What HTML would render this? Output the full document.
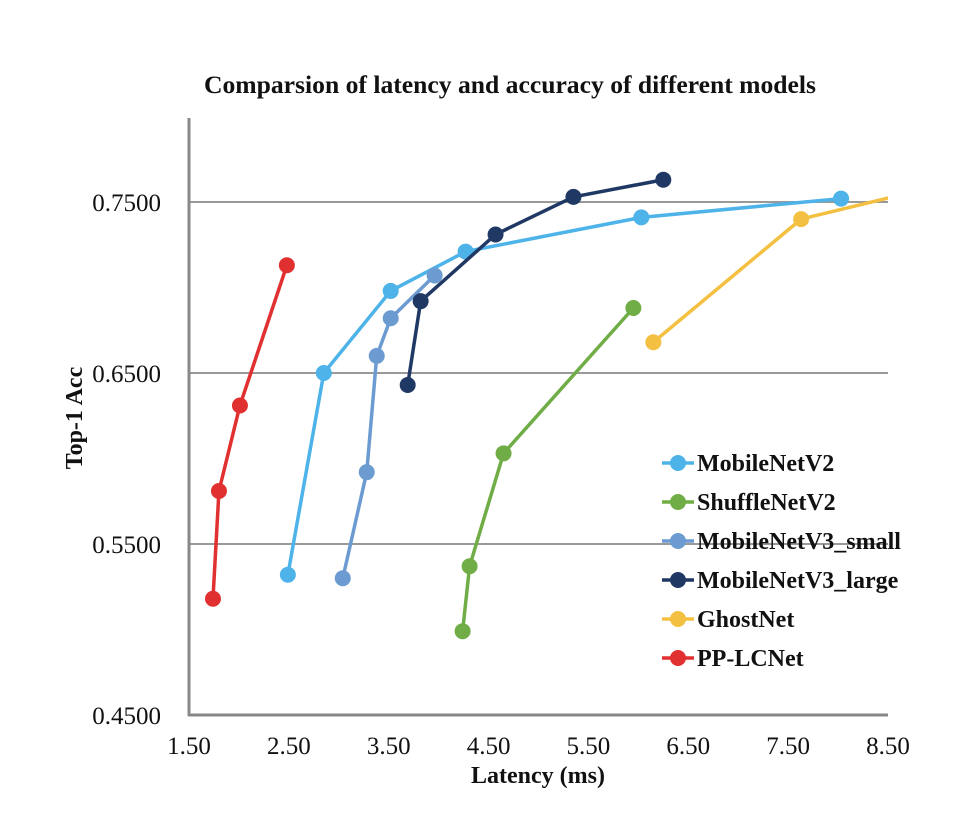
<!DOCTYPE html>
<html><head><meta charset="utf-8"><style>
body{margin:0;background:#fff;}
svg text{font-family:"Liberation Serif",serif;fill:#111;}
</style></head><body>
<svg id="chart" width="972" height="814">
<text x="510" y="93" text-anchor="middle" font-size="25" font-weight="bold" textLength="612" lengthAdjust="spacingAndGlyphs">Comparsion of latency and accuracy of different models</text>
<g id="grid"></g><g id="axes"></g><g id="series"></g><g id="legend"></g>
<text x="538" y="783" text-anchor="middle" font-size="24" font-weight="bold">Latency (ms)</text>
<text transform="translate(82,418) rotate(-90)" text-anchor="middle" font-size="24" font-weight="bold">Top-1 Acc</text>
</svg>
<script>
const xTicks=[1.5,2.5,3.5,4.5,5.5,6.5,7.5,8.5];
const yTicks=[0.45,0.55,0.65,0.75];
const seriesNames=["MobileNetV2","ShuffleNetV2","MobileNetV3_small","MobileNetV3_large","GhostNet","PP-LCNet"];
const seriesColors=["#4db3e8","#70ad47","#6b9bd1","#203864","#f4c042","#e03030"];
const mobileV2X=[2.49,2.85,3.52,4.27,6.03,8.03];
const mobileV2Y=[0.532,0.650,0.698,0.721,0.741,0.752];
const shuffleX=[4.24,4.31,4.65,5.95];
const shuffleY=[0.499,0.537,0.603,0.688];
const v3smallX=[3.04,3.28,3.38,3.52,3.96];
const v3smallY=[0.530,0.592,0.660,0.682,0.707];
const v3largeX=[3.69,3.82,4.57,5.35,6.25];
const v3largeY=[0.643,0.692,0.731,0.753,0.763];
const ghostX=[6.15,7.63,8.9];
const ghostY=[0.668,0.740,0.758];
const lcnetX=[1.74,1.80,2.01,2.48];
const lcnetY=[0.518,0.581,0.631,0.713];
const allX=[mobileV2X,shuffleX,v3smallX,v3largeX,ghostX,lcnetX];
const allY=[mobileV2Y,shuffleY,v3smallY,v3largeY,ghostY,lcnetY];

const NS="http://www.w3.org/2000/svg";
const X0=189,X1=888,Y0=715,Y1=202;
const sx=v=>X0+(v-1.5)/(8.5-1.5)*(X1-X0);
const sy=v=>Y0-(v-0.45)/(0.75-0.45)*(Y0-Y1);
function mk(t,a,p){const e=document.createElementNS(NS,t);for(const k in a)e.setAttribute(k,a[k]);p.appendChild(e);return e;}
const svg=document.getElementById('chart');
const defs=mk('defs',{},svg);
const cp=mk('clipPath',{id:'plotclip'},defs);
mk('rect',{x:X0,y:100,width:X1-X0,height:Y0-100},cp);
const grid=document.getElementById('grid'),axes=document.getElementById('axes');
yTicks.forEach(v=>{
 if(v>0.45){const l=mk('line',{x1:X0,x2:X1,y1:sy(v),y2:sy(v),stroke:'#999','stroke-width':2},grid);
 
 }
 const t=mk('text',{x:161,y:sy(v)+9,'text-anchor':'end','font-size':25},axes);t.textContent=v.toFixed(4);
 
 
});
xTicks.forEach(v=>{
 const t=mk('text',{x:sx(v),y:754,'text-anchor':'middle','font-size':25},axes);t.textContent=v.toFixed(2);
 
 
});
const ya=mk('line',{x1:X0,x2:X0,y1:118,y2:Y0+1,stroke:'#888','stroke-width':3},axes);


const xa=mk('line',{x1:X0-1,x2:X1,y1:Y0,y2:Y0,stroke:'#888','stroke-width':3},axes);


const sg=document.getElementById('series');
seriesNames.forEach((n,i)=>{
 const g=mk('g',{'clip-path':'url(#plotclip)'},sg);
 
 
 const pts=allX[i].map((x,j)=>sx(x)+','+sy(allY[i][j])).join(' ');
 const pl=mk('polyline',{points:pts,fill:'none',stroke:seriesColors[i],'stroke-width':3.5},g);
 
 
 allX[i].forEach((x,j)=>{const c=mk('circle',{cx:sx(x),cy:sy(allY[i][j]),r:8,fill:seriesColors[i]},g);
 
 });
});
const lg=document.getElementById('legend');
seriesNames.forEach((n,i)=>{
 const y=463+i*39;
 const g=mk('g',{},lg);
 
 
 mk('line',{x1:662,x2:694,y1:y,y2:y,stroke:seriesColors[i],'stroke-width':3.5},g);
 mk('circle',{cx:678,cy:y,r:8,fill:seriesColors[i]},g);
 const t=mk('text',{x:697,y:y+8,'font-size':24,'font-weight':'bold'},g);t.textContent=n;
});
</script>
</body></html>
